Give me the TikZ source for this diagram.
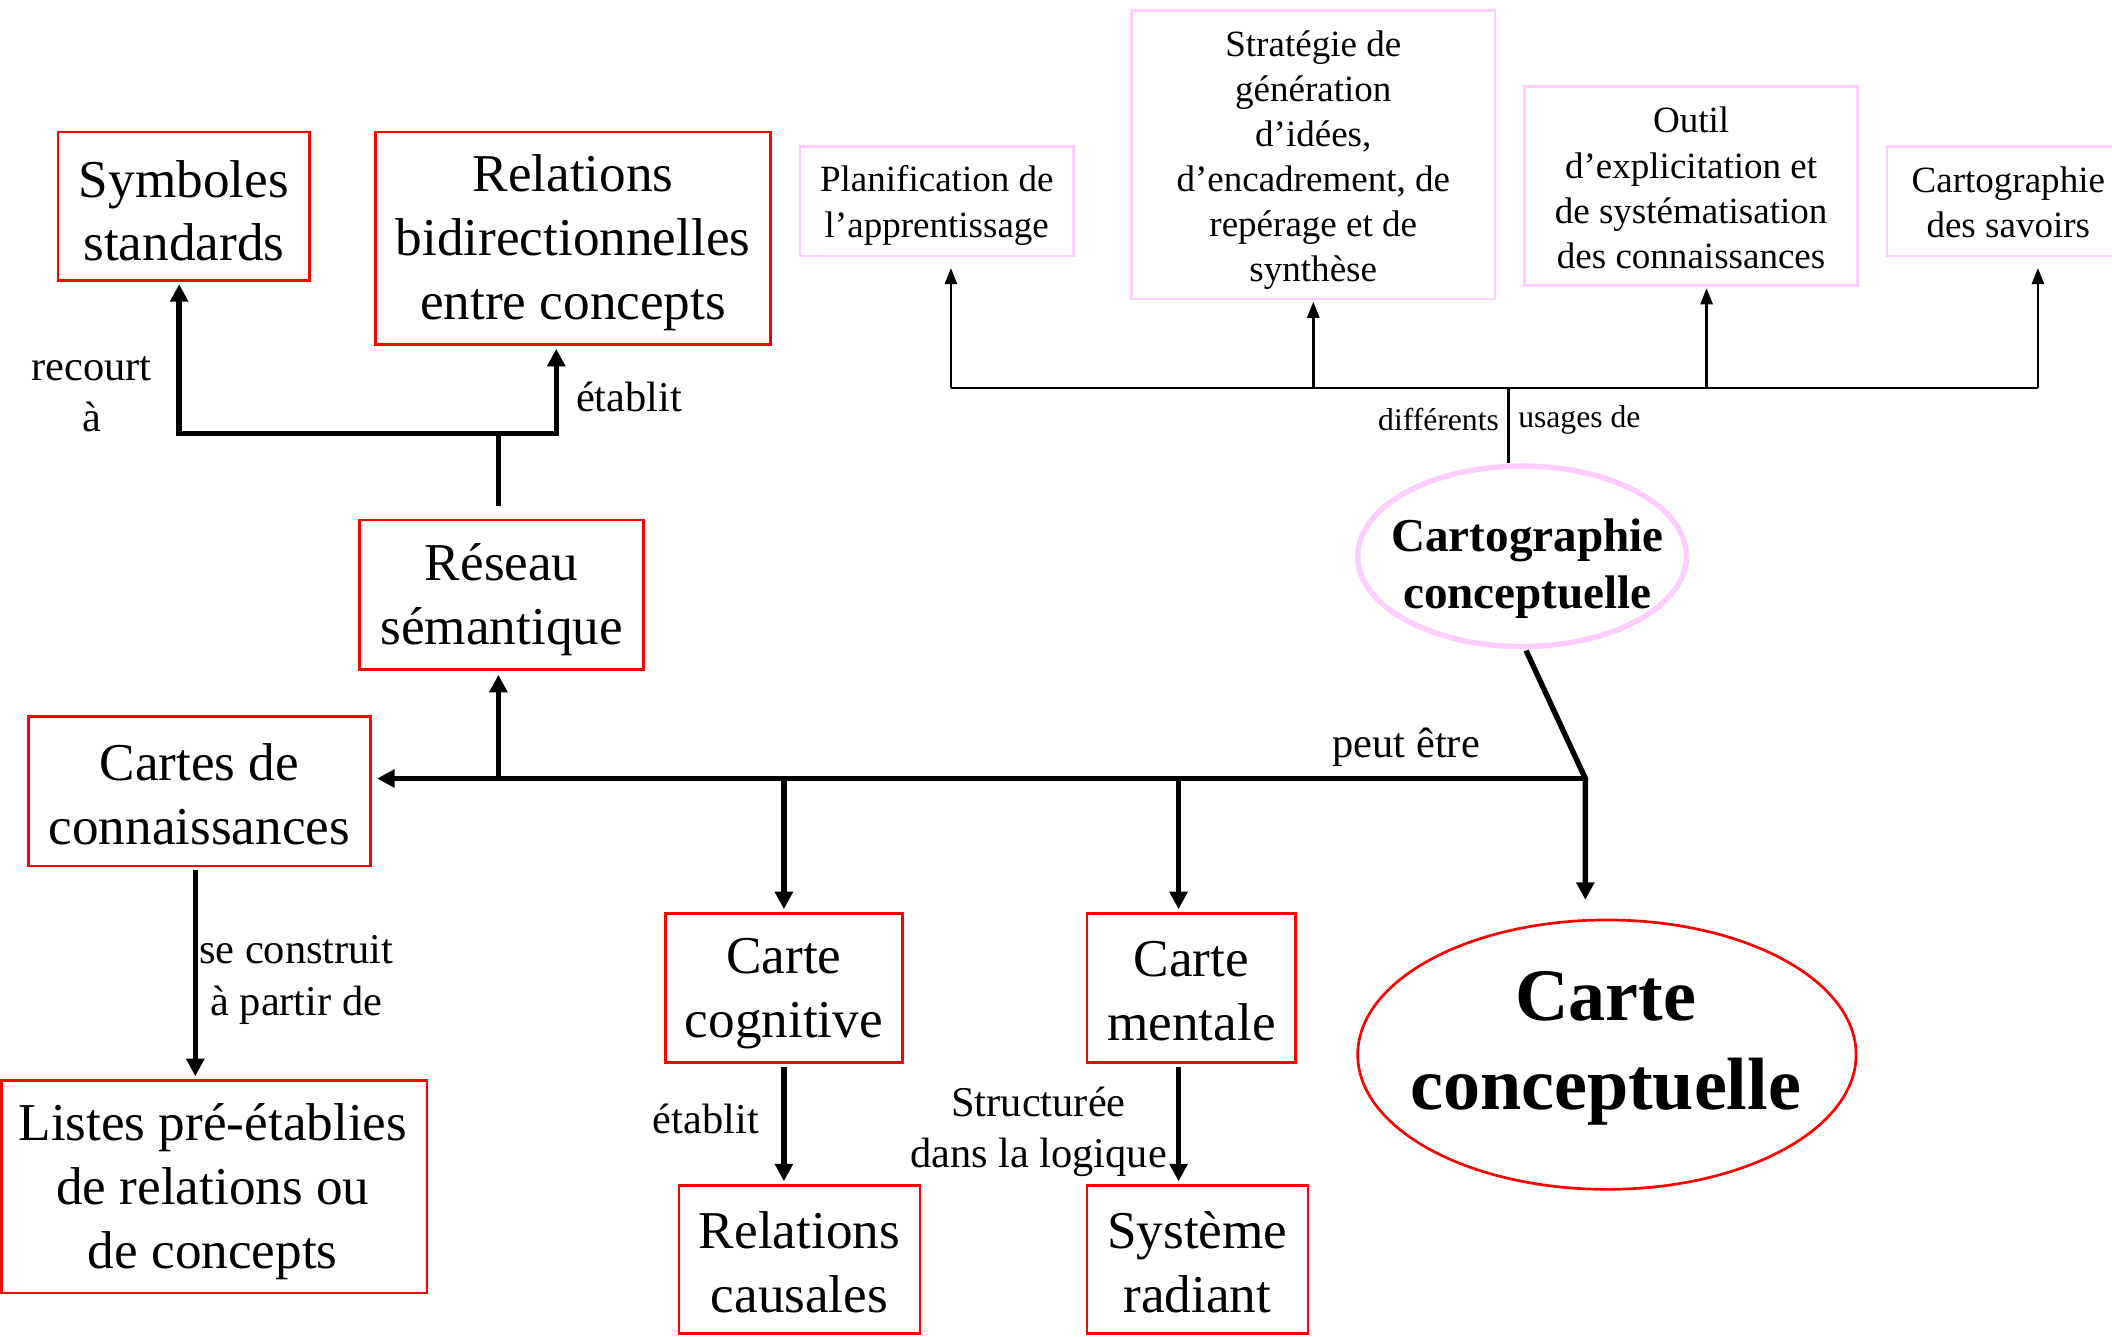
\documentclass[tikz,border=0pt]{standalone}
\usepackage{fontspec}
\setmainfont{Liberation Serif}
\usetikzlibrary{arrows.meta,shapes.geometric,calc}
\definecolor{boxred}{RGB}{255,0,0}
\definecolor{pinkb}{RGB}{255,204,255}
\begin{document}
\begin{tikzpicture}[x=1pt,y=-1pt,
  redbox/.style={draw=boxred,line width=2pt,inner sep=0pt},
  pinkbox/.style={draw=pinkb,line width=2pt,inner sep=0pt},
  bigtxt/.style={align=center,inner sep=0pt,font=\fontsize{39.5}{47.5}\selectfont},
  pinktxt/.style={align=center,inner sep=0pt,font=\fontsize{27.5}{33.5}\selectfont},
  lbl/.style={align=center,inner sep=0pt,font=\fontsize{31.5}{38}\selectfont},
  slbl/.style={inner sep=0pt,font=\fontsize{23.5}{28}\selectfont},
  thickln/.style={line width=4pt},
  thickarr/.style={line width=4pt,-{Triangle[length=13pt,width=13pt]}},
  thinln/.style={line width=2pt},
  thinarr/.style={line width=2pt,-{Triangle[length=12pt,width=9pt]}},
]
\clip (0,0) rectangle (1568,992);
\fill[white] (0,0) rectangle (1568,992);

% red boxes
\node[redbox,minimum width=187pt,minimum height=110pt] (sym) at (136.5,153) {};
\node[bigtxt] (symt) at ([shift={(0,3.5)}]sym.center) {Symboles\\standards};
\node[redbox,minimum width=293pt,minimum height=158pt] (rel) at (425.5,177) {};
\node[bigtxt] (relt) at ([shift={(0,3.5)}]rel.center) {Relations\\bidirectionnelles\\entre concepts};
\node[redbox,minimum width=211pt,minimum height=111pt] (res) at (372.5,441.5) {};
\node[bigtxt] (rest) at ([shift={(0,3.5)}]res.center) {Réseau\\sémantique};
\node[redbox,minimum width=254pt,minimum height=111pt] (cdc) at (148,587.5) {};
\node[bigtxt] (cdct) at ([shift={(0,2)}]cdc.center) {Cartes de\\connaissances};
\node[redbox,minimum width=316pt,minimum height=158pt] (lis) at (159,881) {};
\node[bigtxt] (list) at ([shift={(-1,4)}]lis.center) {Listes pré-établies\\de relations ou\\de concepts};
\node[redbox,minimum width=176pt,minimum height=111pt] (cog) at (582,733.5) {};
\node[bigtxt] (cogt) at ([shift={(0,4.5)}]cog.center) {Carte\\cognitive};
\node[redbox,minimum width=155pt,minimum height=111pt] (men) at (884.5,733.5) {};
\node[bigtxt] (ment) at ([shift={(0,2)}]men.center) {Carte\\mentale};
\node[redbox,minimum width=179pt,minimum height=110pt] (cau) at (593.5,935) {};
\node[bigtxt] (caut) at ([shift={(0,2)}]cau.center) {Relations\\causales};
\node[redbox,minimum width=164pt,minimum height=110pt] (sys) at (889,935) {};
\node[bigtxt] (syst) at ([shift={(0,2)}]sys.center) {Système\\radiant};

% ellipses
\node[ellipse,draw=boxred,line width=2pt,minimum width=370pt,minimum height=200pt,inner sep=0pt] (cc) at (1193,783) {};
\node[align=center,inner sep=0pt,font=\fontsize{55}{66}\selectfont\bfseries] (cct) at ([shift={(-1,-5)}]cc.center) {Carte\\conceptuelle};
\node[ellipse,draw=pinkb,line width=4pt,minimum width=244pt,minimum height=134pt,inner sep=0pt] (cgc) at (1130,413) {};
\node[align=center,inner sep=0pt,font=\fontsize{35}{42}\selectfont\bfseries] (cgct) at ([shift={(4,9)}]cgc.center) {Cartographie\\conceptuelle};

% pink boxes
\node[pinkbox,minimum width=203pt,minimum height=81pt] (pla) at (695.5,149.5) {};
\node[pinktxt] (plat) at ([shift={(0,3)}]pla.center) {Planification de\\l’apprentissage};
\node[pinkbox,minimum width=270pt,minimum height=214pt] (str) at (975,115) {};
\node[pinktxt] (strt) at ([shift={(0,4)}]str.center) {Stratégie de\\génération\\d’idées,\\d’encadrement, de\\repérage et de\\synthèse};
\node[pinkbox,minimum width=247pt,minimum height=148pt] (out) at (1255.5,138) {};
\node[pinktxt] (outt) at ([shift={(0,1.5)}]out.center) {Outil\\d’explicitation et\\de systématisation\\des connaissances};
\node[pinkbox,minimum width=180pt,minimum height=81pt] (sav) at (1491,149.5) {};
\node[pinktxt] (savt) at ([shift={(0,1)}]sav.center) {Cartographie\\des savoirs};

% top-left connectors
\coordinate (jm) at (370,322);
\coordinate (jr) at (413,322);
\draw[thickln] ([shift={(-2.5,-9)}]res.north) -- (jm);
\draw[thickarr,shorten >=2pt] (jr) -- (jm) -| ([xshift=-3.5pt]sym.south);
\draw[thickarr,shorten >=2pt] (jm) -- (jr) -- (jr |- rel.south);

% main connectors
\coordinate (m) at (1177,578);
\coordinate (b1) at (370,578);
\coordinate (b2) at (582,578);
\coordinate (b3) at (875,578);
\draw[thickarr,shorten >=14pt] ([shift={(3,1)}]cgc.south) -- (m) -- (m |- cc.north);
\draw[thickarr,shorten >=4pt] (m) -- (cdc.east |- m);
\draw[thickarr,shorten >=3pt] (b1) -- (b1 |- res.south);
\draw[thickarr,shorten >=2pt] (b2) -- (b2 |- cog.north);
\draw[thickarr,shorten >=2pt] (b3) -- (b3 |- men.north);
\draw[thickarr,shorten >=2pt] ([shift={(-3,2)}]cdc.south) -- ([xshift=-3pt]cdc.south |- lis.north);
\draw[thickarr,shorten >=2pt] ([yshift=-2pt]cog.south) -- (cog.south |- cau.north);
\draw[thickarr,shorten >=2pt] ([shift={(-9.5,2)}]men.south) -- ([xshift=-9.5pt]men.south |- sys.north);

% top connectors
\coordinate (tl) at (706,288);
\coordinate (t2) at (975,288);
\coordinate (tc) at (1120,288);
\coordinate (t3) at (1267,288);
\coordinate (tr) at (1513,288);
\draw[thinln] (tl) -- (tr);
\draw[thinln] (tc) -- (tc |- cgc.north);
\draw[thinarr,shorten >=8pt] (tl) -- (tl |- pla.south);
\draw[thinarr,shorten >=1pt] (t2) -- (t2 |- str.south);
\draw[thinarr,shorten >=1pt] (t3) -- (t3 |- out.south);
\draw[thinarr,shorten >=8pt] (tr) -- (tr |- sav.south);

% labels
\node[lbl] (l1) at (68,292.5) {recourt\\à};
\node[lbl] (l2) at (467,294.5) {établit};
\node[slbl,anchor=east] (l3) at (1113,311.5) {différents};
\node[slbl,anchor=west] (l4) at (1127,311.5) {usages de};
\node[lbl] (l5) at (1044,555) {peut être};
\node[lbl] (l6) at (220,727.5) {se construit\\à partir de};
\node[lbl] (l7) at (524,831) {établit};
\node[lbl] (l8) at (771,840) {Structurée\\dans la logique};
\end{tikzpicture}
\end{document}
